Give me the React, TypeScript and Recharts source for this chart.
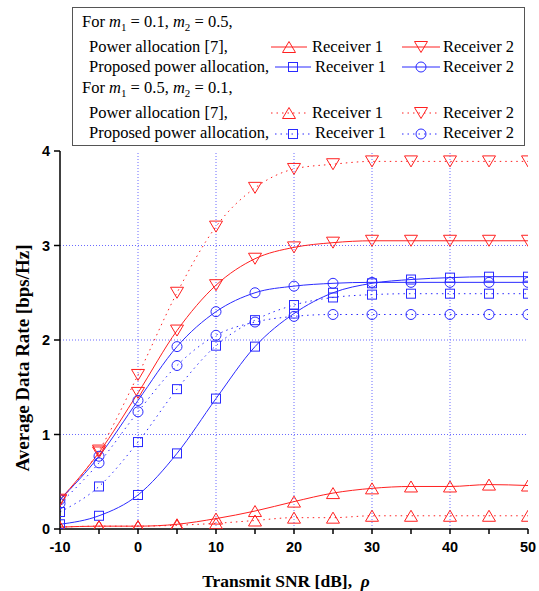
import React from 'react';
import { LineChart, Line, XAxis, YAxis, ReferenceLine, Legend, Label } from 'recharts';

// ---------- data ----------
const snrDb = [-10, -5, 0, 5, 10, 15, 20, 25, 30, 35, 40, 45, 50];

// Case A: m1 = 0.1, m2 = 0.5 (solid lines)
const paR1CaseA = [0.02, 0.03, 0.03, 0.05, 0.11, 0.19, 0.29, 0.38, 0.43, 0.45, 0.45, 0.47, 0.46];
const paR2CaseA = [0.31, 0.81, 1.44, 2.1, 2.58, 2.86, 2.98, 3.03, 3.05, 3.05, 3.05, 3.05, 3.05];
const propR1CaseA = [0.05, 0.14, 0.36, 0.8, 1.38, 1.93, 2.28, 2.5, 2.6, 2.64, 2.66, 2.67, 2.67];
const propR2CaseA = [0.31, 0.77, 1.36, 1.93, 2.3, 2.5, 2.57, 2.6, 2.61, 2.61, 2.61, 2.61, 2.61];

// Case B: m1 = 0.5, m2 = 0.1 (dotted lines)
const paR1CaseB = [0.02, 0.03, 0.03, 0.04, 0.06, 0.09, 0.12, 0.12, 0.14, 0.14, 0.14, 0.14, 0.14];
const paR2CaseB = [0.3, 0.83, 1.63, 2.5, 3.2, 3.61, 3.81, 3.86, 3.89, 3.89, 3.89, 3.89, 3.89];
const propR1CaseB = [0.18, 0.45, 0.92, 1.48, 1.94, 2.21, 2.37, 2.45, 2.48, 2.49, 2.49, 2.49, 2.49];
const propR2CaseB = [0.27, 0.7, 1.24, 1.73, 2.05, 2.19, 2.25, 2.27, 2.27, 2.27, 2.27, 2.27, 2.27];

const xTicks = [-10, -5, 0, 5, 10, 15, 20, 25, 30, 35, 40, 45, 50];
const xGridValues = [0, 10, 20, 30, 40];
const yMajorTicks = [0, 1, 2, 3, 4];
const yMinorTicks = [0, 0.5, 1, 1.5, 2, 2.5, 3, 3.5, 4];
const yGridValues = [1, 2, 3];

const legendCases = [
  { m1: '0.1', m2: '0.5', dotted: false },
  { m1: '0.5', m2: '0.1', dotted: true },
];
const legendMethods = ['Power allocation [7],', 'Proposed power allocation,'];
const legendReceivers = ['Receiver 1', 'Receiver 2'];

// ---------- styling ----------
const RED = '#ff2020';
const BLUE = '#2a2aff';
const GRID = '#6a6aff';
const DOT_DASH = '1.5 4';
const SERIF = '"Liberation Serif", "Times New Roman", serif';
const SANS = '"Liberation Sans", Arial, sans-serif';

type Shape = 'up' | 'down' | 'square' | 'circle';

const methodShapes: Shape[][] = [
  ['up', 'down'],
  ['square', 'circle'],
];
const methodColors = [RED, BLUE];

const series = [
  { key: 'paR1A', values: paR1CaseA, color: RED, shape: 'up' as Shape, dotted: false },
  { key: 'paR2A', values: paR2CaseA, color: RED, shape: 'down' as Shape, dotted: false },
  { key: 'propR1A', values: propR1CaseA, color: BLUE, shape: 'square' as Shape, dotted: false },
  { key: 'propR2A', values: propR2CaseA, color: BLUE, shape: 'circle' as Shape, dotted: false },
  { key: 'paR1B', values: paR1CaseB, color: RED, shape: 'up' as Shape, dotted: true },
  { key: 'paR2B', values: paR2CaseB, color: RED, shape: 'down' as Shape, dotted: true },
  { key: 'propR1B', values: propR1CaseB, color: BLUE, shape: 'square' as Shape, dotted: true },
  { key: 'propR2B', values: propR2CaseB, color: BLUE, shape: 'circle' as Shape, dotted: true },
];

const data = snrDb.map((x, i) => {
  const row: Record<string, number> = { x };
  series.forEach((s) => {
    row[s.key] = s.values[i];
  });
  return row;
});

function marker(shape: Shape, cx: number, cy: number, color: string, key?: string | number) {
  const sw = 1;
  if (shape === 'up') {
    const w = 13, h = 11;
    return (
      <polygon key={key} points={`${cx},${cy - h / 2} ${cx - w / 2},${cy + h / 2} ${cx + w / 2},${cy + h / 2}`}
        fill="none" stroke={color} strokeWidth={sw} />
    );
  }
  if (shape === 'down') {
    const w = 13, h = 11;
    return (
      <polygon key={key} points={`${cx - w / 2},${cy - h / 2} ${cx + w / 2},${cy - h / 2} ${cx},${cy + h / 2}`}
        fill="none" stroke={color} strokeWidth={sw} />
    );
  }
  if (shape === 'square') {
    return <rect key={key} x={cx - 4.5} y={cy - 4.5} width={9} height={9} fill="none" stroke={color} strokeWidth={sw} />;
  }
  return <circle key={key} cx={cx} cy={cy} r={5} fill="none" stroke={color} strokeWidth={sw} />;
}

const makeDot = (shape: Shape, color: string) => (props: any) => {
  const { cx, cy, index } = props;
  if (cx == null || cy == null) return <g key={`e${index}`} />;
  return marker(shape, cx, cy, color, `${shape}-${index}`);
};

function LegendBox() {
  const W = 453, H = 139;
  const caseBaseY = [20, 86];
  const rowBase = [[45, 65], [111, 131]];
  const lineY = [[40, 60], [106, 127]];
  const sample1 = [[199, 235], [203, 239]];
  const sample2 = [330, 368];
  const text1X = [240, 243];
  const text2X = 371;
  return (
    <svg width={W} height={H} style={{ display: 'block', overflow: 'visible' }}>
      <rect x={0.5} y={0.5} width={W - 1} height={H - 1} fill="#fff" stroke="#555" strokeWidth={1} />
      {legendCases.map((c, ci) => (
        <g key={ci} fontFamily={SERIF} fontSize={16.5} fill="#000">
          <text x={10} y={caseBaseY[ci]}>
            For <tspan fontStyle="italic">m</tspan>
            <tspan fontSize={11} dy={4}>1</tspan>
            <tspan dy={-4}> = {c.m1}, </tspan>
            <tspan fontStyle="italic">m</tspan>
            <tspan fontSize={11} dy={4}>2</tspan>
            <tspan dy={-4}> = {c.m2},</tspan>
          </text>
          {legendMethods.map((m, mi) => {
            const color = methodColors[mi];
            const ly = lineY[ci][mi];
            const dash = c.dotted ? DOT_DASH : undefined;
            const [a1, b1] = sample1[mi];
            const [a2, b2] = sample2;
            return (
              <g key={mi}>
                <text x={17} y={rowBase[ci][mi]}>{m}</text>
                <line x1={a1} x2={b1} y1={ly} y2={ly} stroke={color} strokeWidth={1} strokeDasharray={dash} />
                {marker(methodShapes[mi][0], (a1 + b1) / 2, ly, color)}
                <text x={text1X[mi]} y={rowBase[ci][mi]}>{legendReceivers[0]}</text>
                <line x1={a2} x2={b2} y1={ly} y2={ly} stroke={color} strokeWidth={1} strokeDasharray={dash} />
                {marker(methodShapes[mi][1], (a2 + b2) / 2, ly, color)}
                <text x={text2X} y={rowBase[ci][mi]}>{legendReceivers[1]}</text>
              </g>
            );
          })}
        </g>
      ))}
    </svg>
  );
}

const XTitle = (props: any) => {
  const vb = props.viewBox || {};
  const cx = vb.x + vb.width / 2 - 8;
  const y = vb.y + 58;
  return (
    <text x={cx} y={y} textAnchor="middle" fontFamily={SERIF} fontWeight="bold" fontSize={17.5} fill="#000">
      Transmit SNR [dB],{'\u00a0\u00a0'}<tspan fontStyle="italic">ρ</tspan>
    </text>
  );
};

const YTitle = (props: any) => {
  const vb = props.viewBox || {};
  const cx = 22;
  const cy = vb.y + vb.height / 2 + 18;
  return (
    <text x={cx} y={cy} transform={`rotate(-90, ${cx}, ${cy})`} textAnchor="middle" dominantBaseline="central"
      fontFamily={SERIF} fontWeight="bold" fontSize={19} fill="#000">
      Average Data Rate [bps/Hz]
    </text>
  );
};

export default function App() {
  const tickStyle = { fill: '#000', fontFamily: SANS, fontWeight: 'bold', fontSize: 14.5 } as any;
  return (
    <div style={{ position: 'absolute', left: 0, top: 0, width: 539, height: 591, background: '#fff' }}>
      <LineChart width={539} height={591} data={data} margin={{ top: 151, right: 11, bottom: 0, left: 0 }}>
        <XAxis
          xAxisId="x"
          dataKey="x"
          type="number"
          domain={[-10, 50]}
          ticks={xTicks}
          interval={0}
          tickFormatter={(v: number) => (v % 10 === 0 ? String(v) : '')}
          tickSize={5}
          tickMargin={8}
          height={62}
          axisLine={{ stroke: '#000', strokeWidth: 1.5 }}
          tickLine={{ stroke: '#000', strokeWidth: 1.5 }}
          tick={tickStyle}
          allowDataOverflow
        >
          <Label content={XTitle} />
        </XAxis>
        <XAxis
          xAxisId="top"
          orientation="top"
          type="number"
          domain={[-10, 50]}
          height={0}
          tick={false}
          tickLine={false}
          axisLine={{ stroke: '#333', strokeWidth: 1.5 }}
        />
        <YAxis
          yAxisId="yMinor"
          type="number"
          domain={[0, 4]}
          ticks={yMinorTicks}
          interval={0}
          width={0}
          tickSize={3}
          tickFormatter={() => ''}
          axisLine={false}
          tickLine={{ stroke: '#000', strokeWidth: 1.5 }}
        />
        <YAxis
          yAxisId="y"
          type="number"
          domain={[0, 4]}
          ticks={yMajorTicks}
          interval={0}
          width={60}
          tickSize={6}
          tickMargin={4}
          axisLine={{ stroke: '#000', strokeWidth: 1.5 }}
          tickLine={{ stroke: '#000', strokeWidth: 1.5 }}
          tick={tickStyle}
          allowDataOverflow
        >
          <Label content={YTitle} />
        </YAxis>
        <YAxis
          yAxisId="right"
          orientation="right"
          type="number"
          domain={[0, 4]}
          width={0}
          tick={false}
          tickLine={false}
          axisLine={{ stroke: '#333', strokeWidth: 1.5 }}
        />
        {xGridValues.map((v) => (
          <ReferenceLine key={`gx${v}`} xAxisId="x" yAxisId="y" x={v} stroke={GRID} strokeDasharray="1 2" strokeWidth={1} />
        ))}
        {yGridValues.map((v) => (
          <ReferenceLine key={`gy${v}`} xAxisId="x" yAxisId="y" y={v} stroke={GRID} strokeDasharray="1 2" strokeWidth={1} />
        ))}
        {series.map((s) => (
          <Line
            key={s.key}
            xAxisId="x"
            yAxisId="y"
            dataKey={s.key}
            type="monotone"
            stroke={s.color}
            strokeWidth={1}
            strokeDasharray={s.dotted ? DOT_DASH : undefined}
            dot={makeDot(s.shape, s.color)}
            activeDot={false}
            isAnimationActive={false}
          />
        ))}
        <Legend
          layout="vertical"
          align="center"
          verticalAlign="middle"
          wrapperStyle={{ position: 'absolute', left: 72, top: 7, width: 453, height: 139 }}
          content={() => <LegendBox />}
        />
      </LineChart>
    </div>
  );
}
